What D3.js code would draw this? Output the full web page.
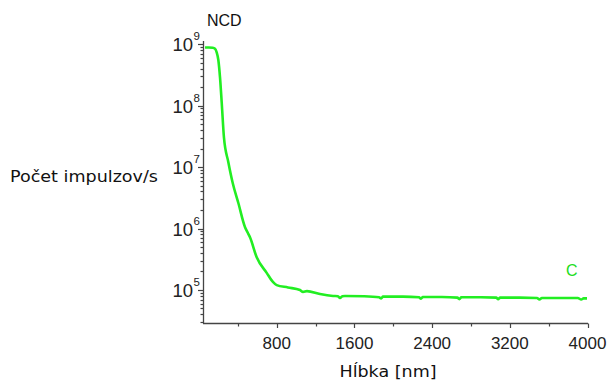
<!DOCTYPE html>
<html><head><meta charset="utf-8">
<script src="https://cdn.jsdelivr.net/npm/d3@7"></script>
<style>body{margin:0;background:#fff}</style>
</head><body>
<svg id="c" width="609" height="382"></svg>
<script>
const depth = [61, 100, 140, 164, 180, 198, 215, 233, 256, 301, 346, 404, 473, 500, 524, 593, 696, 760, 799, 915, 1039, 1070, 1111, 1245, 1379, 1430, 1451, 1475, 1502, 1700, 1853, 1875, 1894, 2100, 2265, 2285, 2305, 2500, 2660, 2680, 2700, 2900, 3060, 3080, 3100, 3300, 3480, 3505, 3530, 3700, 3900, 3935, 3960, 3995];
const counts = [8.8e8, 8.8e8, 8.7e8, 8.4e8, 7.4e8, 5.5e8, 2.9e8, 1.1e8, 3.0e7, 1.2e7, 5.5e6, 2.6e6, 1.05e6, 8.6e5, 7.2e5, 3.4e5, 1.9e5, 1.35e5, 1.2e5, 1.1e5, 1.0e5, 9.3e4, 9.6e4, 8.6e4, 8.0e4, 7.9e4, 7.4e4, 7.9e4, 8.0e4, 7.9e4, 7.6e4, 7.3e4, 7.8e4, 7.8e4, 7.6e4, 7.2e4, 7.7e4, 7.7e4, 7.5e4, 7.1e4, 7.6e4, 7.6e4, 7.5e4, 7.1e4, 7.5e4, 7.5e4, 7.4e4, 7.0e4, 7.4e4, 7.4e4, 7.4e4, 7.0e4, 7.3e4, 7.3e4];
const xTicks = [800, 1600, 2400, 3200, 4000];
const xMinorTicks = [400, 800, 1200, 1600, 2000, 2400, 2800, 3200, 3600, 4000];
const yExponents = [5, 6, 7, 8, 9];

const svg = d3.select("#c");
const x = d3.scaleLinear().domain([40, 4000]).range([203, 587.5]);
const y = d3.scaleLog().domain([Math.pow(10, 4.463), Math.pow(10, 9.05)]).range([323, 41]);
const axisColor = "#444";
const font = "Liberation Sans, Arial, sans-serif";

svg.append("line").attr("x1", 203.5).attr("x2", 203.5).attr("y1", y.range()[1]).attr("y2", 323.5)
  .attr("stroke", axisColor).attr("stroke-width", 1.3);
svg.append("line").attr("x1", 203).attr("x2", 588).attr("y1", 323.5).attr("y2", 323.5)
  .attr("stroke", axisColor).attr("stroke-width", 1.3);

const yMinor = [];
for (let e = 4; e <= 9; e++) for (let m = 1; m <= 9; m++) {
  const v = m * Math.pow(10, e);
  if (v >= y.domain()[0] && v <= y.domain()[1]) yMinor.push({v, major: m === 1});
}
svg.selectAll(".yt").data(yMinor).enter().append("line")
  .attr("x1", d => d.major ? 198 : 200.5).attr("x2", 203.5)
  .attr("y1", d => Math.round(y(d.v)) + 0.5).attr("y2", d => Math.round(y(d.v)) + 0.5)
  .attr("stroke", axisColor).attr("stroke-width", 1.2);

yExponents.forEach(e => {
  svg.append("text").attr("x", 193).attr("y", y(Math.pow(10, e)) + 7)
    .attr("text-anchor", "end").attr("font-family", font)
    .attr("font-size", 18.5).attr("fill", "#222").text("10");
  svg.append("text").attr("x", 193.5).attr("y", y(Math.pow(10, e)) - 4)
    .attr("font-family", font)
    .attr("font-size", 11.5).attr("fill", "#222").text(e);
});

svg.selectAll(".xm").data(xMinorTicks).enter().append("line")
  .attr("x1", d => Math.round(x(d)) + 0.5).attr("x2", d => Math.round(x(d)) + 0.5)
  .attr("y1", 323.5).attr("y2", d => xTicks.includes(d) ? 328 : 326.5)
  .attr("stroke", axisColor).attr("stroke-width", 1.2);
svg.selectAll(".xl").data(xTicks).enter().append("text")
  .attr("x", d => x(d)).attr("y", 349).attr("text-anchor", "middle")
  .attr("font-family", font).attr("font-size", 17)
  .attr("fill", "#222").text(d => d);

const line = d3.line().x((d, i) => x(depth[i])).y(d => y(d)).curve(d3.curveMonotoneX);
svg.append("path").datum(counts).attr("d", line).attr("fill", "none")
  .attr("stroke", "#22ee22").attr("stroke-width", 2.6).attr("stroke-linejoin", "round");

svg.append("text").attr("x", 207).attr("y", 26).attr("font-family", font)
  .attr("font-size", 16).attr("fill", "#111").text("NCD");
svg.append("text").attr("x", 566).attr("y", 276).attr("font-family", font)
  .attr("font-size", 16).attr("fill", "#22dd22").text("C");
svg.append("text").attr("x", 10).attr("y", 182).attr("font-family", "DejaVu Sans, Verdana, sans-serif")
  .attr("font-size", 16).attr("fill", "#111").attr("textLength", 148).attr("lengthAdjust", "spacingAndGlyphs").text("Počet impulzov/s");
svg.append("text").attr("x", 388).attr("y", 377).attr("text-anchor", "middle").attr("font-family", "DejaVu Sans, Verdana, sans-serif")
  .attr("font-size", 16).attr("fill", "#111").attr("textLength", 97).attr("lengthAdjust", "spacingAndGlyphs").text("Hĺbka [nm]");
</script>
</body></html>
